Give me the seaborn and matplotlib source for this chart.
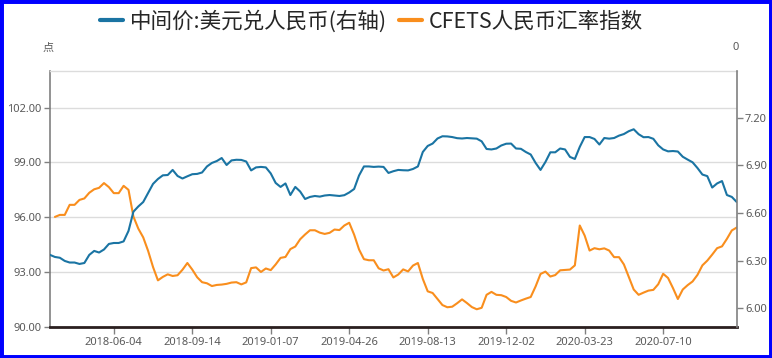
import numpy as np
import pandas as pd
import matplotlib
matplotlib.use('Agg')
import matplotlib.pyplot as plt
import seaborn as sns
from matplotlib.lines import Line2D
from matplotlib.patches import Rectangle
from matplotlib.ticker import FormatStrFormatter

# weekly samples, left to right
usdcny = [6.336, 6.323, 6.318, 6.298, 6.288, 6.288, 6.279, 6.285, 6.336, 6.361,
          6.351, 6.370, 6.405, 6.411, 6.411, 6.421, 6.487, 6.608, 6.641, 6.669,
          6.726, 6.783, 6.814, 6.837, 6.839, 6.871, 6.833, 6.817, 6.831, 6.844,
          6.846, 6.855, 6.893, 6.915, 6.927, 6.946, 6.902, 6.931, 6.935, 6.934,
          6.924, 6.868, 6.887, 6.890, 6.887, 6.849, 6.789, 6.764, 6.786, 6.713,
          6.764, 6.735, 6.688, 6.701, 6.707, 6.703, 6.710, 6.713, 6.710, 6.707,
          6.712, 6.729, 6.751, 6.836, 6.893, 6.893, 6.890, 6.892, 6.890, 6.852,
          6.863, 6.871, 6.869, 6.868, 6.877, 6.893, 6.984, 7.022, 7.037, 7.069,
          7.083, 7.082, 7.078, 7.071, 7.069, 7.072, 7.070, 7.068, 7.051, 7.003,
          7.000, 7.006, 7.025, 7.036, 7.037, 7.006, 7.004, 6.984, 6.968, 6.915,
          6.871, 6.921, 6.982, 6.982, 7.006, 7.000, 6.953, 6.940, 7.016, 7.078,
          7.078, 7.066, 7.031, 7.072, 7.068, 7.072, 7.087, 7.097, 7.115, 7.127,
          7.096, 7.077, 7.078, 7.067, 7.026, 7.000, 6.988, 6.990, 6.987, 6.954,
          6.936, 6.919, 6.883, 6.842, 6.832, 6.760, 6.786, 6.801, 6.713, 6.701, 6.669]

cfets = [np.nan, 96.02, 96.13, 96.13, 96.68, 96.68, 96.95, 97.03, 97.34, 97.53,
         97.61, 97.87, 97.65, 97.32, 97.32, 97.72, 97.50, 96.04, 95.38, 94.90,
         94.16, 93.28, 92.55, 92.74, 92.88, 92.79, 92.83, 93.13, 93.50, 93.14,
         92.72, 92.45, 92.39, 92.24, 92.30, 92.32, 92.36, 92.43, 92.45, 92.33,
         92.44, 93.22, 93.26, 93.01, 93.20, 93.11, 93.42, 93.78, 93.83, 94.26,
         94.40, 94.80, 95.06, 95.29, 95.29, 95.16, 95.09, 95.15, 95.33, 95.30,
         95.55, 95.70, 95.05, 94.24, 93.71, 93.65, 93.65, 93.21, 93.09, 93.16,
         92.71, 92.87, 93.15, 93.04, 93.36, 93.50, 92.63, 91.95, 91.86, 91.53,
         91.20, 91.08, 91.11, 91.30, 91.51, 91.31, 91.09, 90.97, 91.05, 91.76,
         91.92, 91.76, 91.74, 91.64, 91.43, 91.34, 91.45, 91.55, 91.64, 92.22,
         92.90, 93.03, 92.76, 92.84, 93.10, 93.12, 93.14, 93.37, 95.55, 95.00,
         94.18, 94.31, 94.25, 94.30, 94.18, 93.82, 93.82, 93.42, 92.74, 92.05,
         91.76, 91.88, 91.99, 92.03, 92.34, 92.91, 92.68, 92.13, 91.53, 92.05,
         92.29, 92.49, 92.85, 93.37, 93.63, 93.96, 94.31, 94.41, 94.82, 95.28, 95.44]

tick_pos = [13, 29, 45, 61, 77, 93, 109, 125]
tick_labels = ['2018-06-04', '2018-09-14', '2019-01-07', '2019-04-26',
               '2019-08-13', '2019-12-02', '2020-03-23', '2020-07-10']
left_ticks = [90, 93, 96, 99, 102]
right_ticks = [6.00, 6.30, 6.60, 6.90, 7.20]

blue = '#1a74a3'
orange = '#f98e1d'
grey = '#595959'

df = pd.DataFrame({'idx': np.arange(len(usdcny)), 'usdcny': usdcny, 'cfets': cfets})

sns.set_style('white')
plt.rcParams['font.family'] = ['Noto Sans', 'Noto Sans CJK SC', 'DejaVu Sans']

fig = plt.figure(figsize=(7.72, 3.58), dpi=100)
ax = fig.add_axes([0.0648, 0.0866, 0.8895, 0.7151])
ax2 = ax.twinx()

sns.lineplot(data=df, x='idx', y='cfets', ax=ax, color=orange, lw=1.5, legend=False)
sns.lineplot(data=df, x='idx', y='usdcny', ax=ax2, color=blue, lw=1.5, legend=False)

ax.set_xlim(0, 140)
ax.set_ylim(90, 104)
ax2.set_ylim(5.882, 7.494)
ax.set_xlabel('')
ax.set_ylabel('')
ax2.set_ylabel('')

ax.set_yticks(left_ticks)
ax.yaxis.set_major_formatter(FormatStrFormatter('%.2f'))
ax2.set_yticks(right_ticks)
ax2.yaxis.set_major_formatter(FormatStrFormatter('%.2f'))
ax.set_xticks(tick_pos)
ax.set_xticklabels(tick_labels)

ax.yaxis.grid(True, color='#dcdcdc', lw=1)
ax.set_axisbelow(True)
ax2.grid(False)

for s in ['top', 'left', 'bottom']:
    ax2.spines[s].set_visible(False)
ax.spines['right'].set_visible(False)
ax.spines['top'].set_color('#dcdcdc')
ax.spines['top'].set_linewidth(1)
ax.spines['left'].set_color('#808080')
ax.spines['left'].set_linewidth(1.2)
ax.spines['bottom'].set_color('#2a1f1f')
ax.spines['bottom'].set_linewidth(2)
ax2.spines['right'].set_color('#808080')
ax2.spines['right'].set_linewidth(1.2)

ax.tick_params(axis='y', direction='out', length=4, width=1, color='#808080',
               labelsize=8, labelcolor=grey, pad=2, left=True)
ax.tick_params(axis='x', direction='out', length=5, width=1, color='#808080',
               labelsize=8, labelcolor=grey, pad=2, bottom=True)
ax2.tick_params(axis='y', direction='out', length=4, width=1, color='#808080',
                labelsize=8, labelcolor=grey, pad=2, right=True)

fig.text(48 / 772, 1 - 48 / 358, '点', fontsize=8, color=grey, ha='center', va='center',
         family=['Noto Sans CJK SC', 'DejaVu Sans'])
fig.text(736 / 772, 1 - 48 / 358, '0', fontsize=8, color=grey, ha='center', va='center')

handles = [Line2D([], [], color=blue, lw=3), Line2D([], [], color=orange, lw=3)]
fig.legend(handles, ['中间价:美元兑人民币(右轴)', 'CFETS人民币汇率指数'],
           loc='center', bbox_to_anchor=(0.481, 0.94), ncol=2, frameon=False,
           prop={'family': ['Noto Sans CJK SC', 'DejaVu Sans'], 'size': 15.5},
           handlelength=1.07, handletextpad=0.33, columnspacing=0.55, borderpad=0)

fig.add_artist(Rectangle((0, 0), 1, 1, transform=fig.transFigure, fill=False,
                         edgecolor='#0000ff', lw=5))

fig.savefig('out.png', dpi=100)
